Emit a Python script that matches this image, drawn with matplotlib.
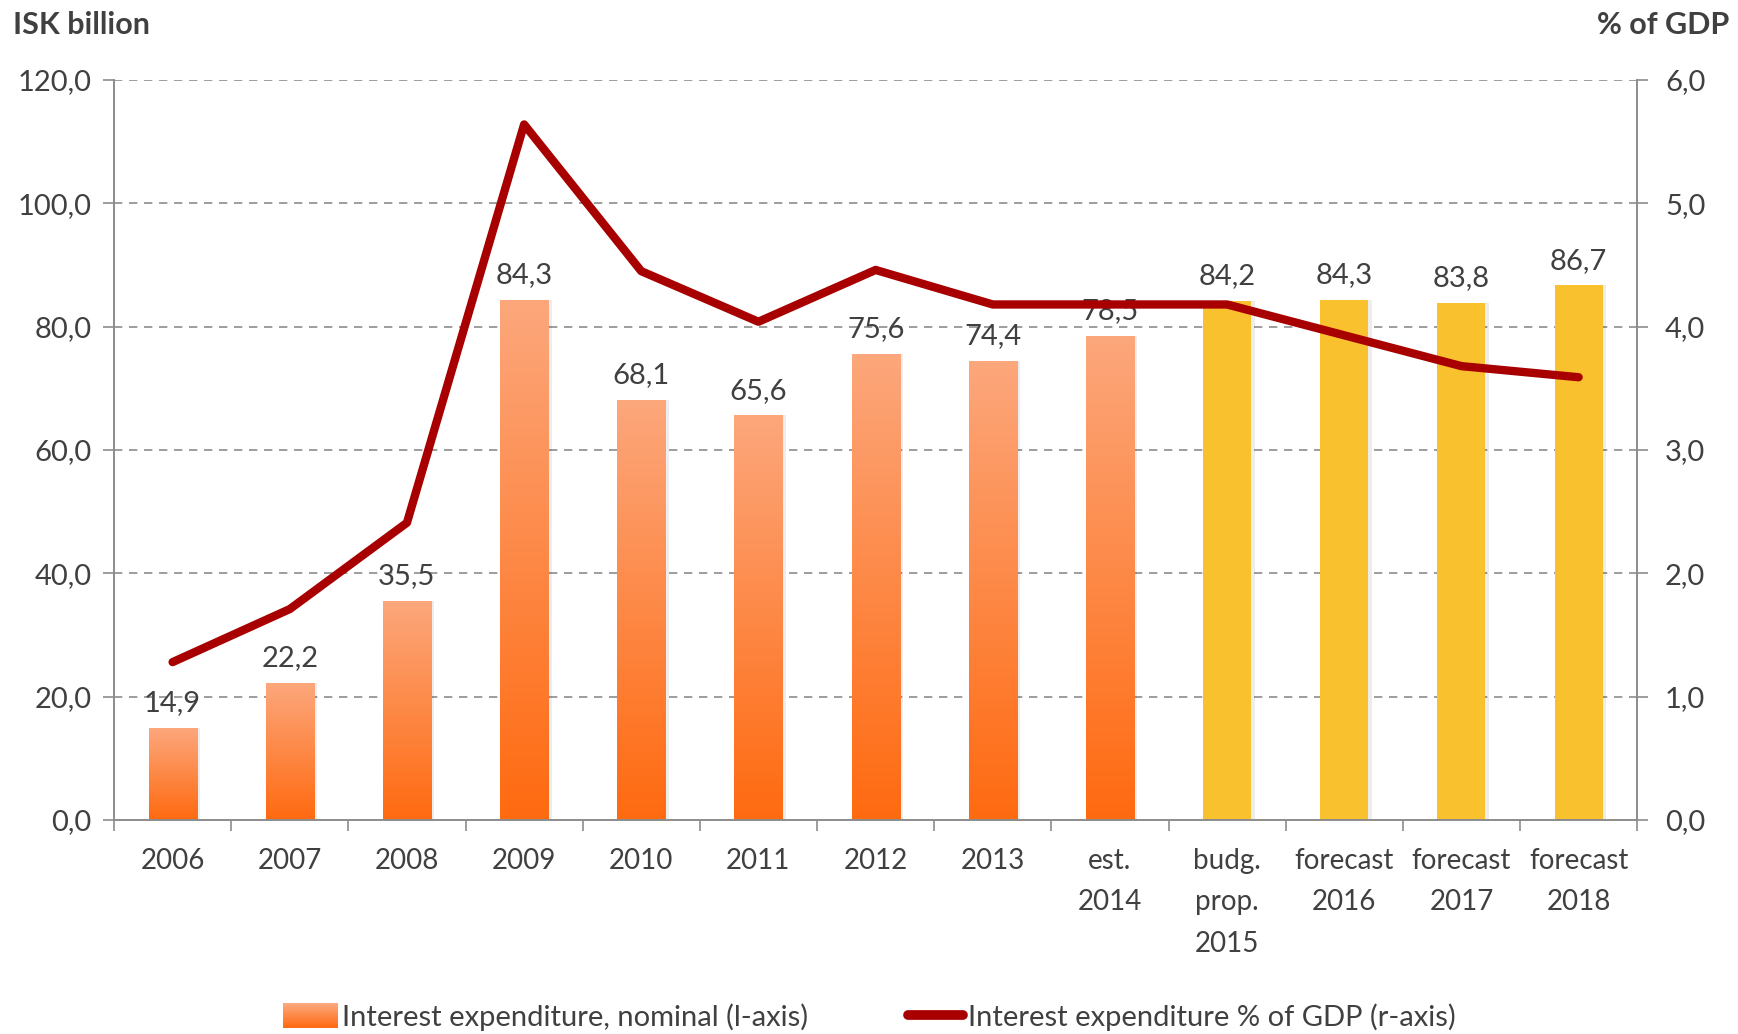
import numpy as np
import matplotlib
matplotlib.use("Agg")
import matplotlib.pyplot as plt
from matplotlib.colors import LinearSegmentedColormap
from matplotlib.patches import Patch, Rectangle
from matplotlib.lines import Line2D
from matplotlib.legend_handler import HandlerBase

plt.rcParams['font.family'] = ['Lato', 'DejaVu Sans']

# data
categories = ["2006", "2007", "2008", "2009", "2010", "2011", "2012", "2013",
              "est.\n2014", "budg.\nprop.\n2015", "forecast\n2016",
              "forecast\n2017", "forecast\n2018"]
nominal = [14.9, 22.2, 35.5, 84.3, 68.1, 65.6, 75.6, 74.4, 78.5, 84.2, 84.3, 83.8, 86.7]
pct_gdp = [1.28, 1.71, 2.41, 5.64, 4.45, 4.04, 4.46, 4.18, 4.18, 4.18, 3.93, 3.68, 3.59]
is_forecast = [False] * 9 + [True] * 4
left_ticks = [0, 20, 40, 60, 80, 100, 120]
right_ticks = [0, 1, 2, 3, 4, 5, 6]

text_col = "#404040"
grid_col = "#8c8c8c"
yellow = "#F9C12E"
grad = LinearSegmentedColormap.from_list("bar", ["#FF6A10", "#FCA77C"])


class GradientHandler(HandlerBase):
    """Legend box with the same vertical gradient as the bars."""
    def create_artists(self, legend, orig_handle, xdescent, ydescent,
                       width, height, fontsize, trans):
        n = 20
        out = []
        for i in range(n):
            r = Rectangle((-xdescent, -ydescent + height * i / n), width,
                          height / n + 0.3, facecolor=grad(i / (n - 1)),
                          edgecolor="none", transform=trans)
            out.append(r)
        return out


fig = plt.figure(figsize=(17.38, 10.34), dpi=100)
ax = fig.add_axes([0.0656, 0.207, 0.8764, 0.7156])
ax2 = ax.twinx()

x = np.arange(len(categories))
w = 0.41

# shadow
ax.bar(x + 0.03, nominal, width=w, color="#000000", alpha=0.07, zorder=1)
bars = ax.bar(x, nominal, width=w, color="none", zorder=2)
gimg = np.linspace(0, 1, 256).reshape(-1, 1)
for b, v, fc in zip(bars, nominal, is_forecast):
    if fc:
        b.set_facecolor(yellow)
    else:
        x0 = b.get_x()
        im = ax.imshow(gimg, cmap=grad, aspect="auto", origin="lower",
                       extent=[x0, x0 + w, 0, v], zorder=2)
        im.set_clip_path(b)
for xi, v in zip(x, nominal):
    ax.text(xi, v + 1.9, f"{v:.1f}".replace(".", ","), ha="center", va="bottom",
            fontsize=21, color=text_col, zorder=5)

ax.set_xlim(-0.5, len(categories) - 0.5)
ax.set_ylim(0, 120)
ax2.set_ylim(0, 6)

ax2.plot(x, pct_gdp, color="#A80000", lw=6, solid_capstyle="round",
         solid_joinstyle="round", zorder=4)

# grid and axes
for t in left_ticks[1:]:
    ax.axhline(t, color=grid_col, lw=1.2, ls=(0, (5, 4)), zorder=0)
ax.set_yticks(left_ticks)
ax.set_yticklabels([f"{t:.1f}".replace(".", ",") for t in left_ticks])
ax2.set_yticks(right_ticks)
ax2.set_yticklabels([f"{t:.1f}".replace(".", ",") for t in right_ticks])
ax.set_xticks(x)
ax.set_xticklabels(categories, linespacing=1.75, va="top")
ax.set_xticks(np.arange(-0.5, len(categories)), minor=True)
ax.tick_params(axis="x", which="major", length=0, pad=20, labelsize=20, colors=text_col)
ax.tick_params(axis="x", which="minor", length=8, color=grid_col, width=1.2)
ax.tick_params(axis="y", length=8, color=grid_col, width=1.2, labelsize=21,
               labelcolor=text_col, pad=8)
ax2.tick_params(axis="y", length=8, color=grid_col, width=1.2, labelsize=21,
                labelcolor=text_col, pad=12)
for a in (ax, ax2):
    a.spines["top"].set_visible(False)
    for s in ("left", "right", "bottom"):
        a.spines[s].set_color(grid_col)
        a.spines[s].set_linewidth(1.2)
ax2.patch.set_visible(False)

fig.text(0.0075, 0.976, "ISK billion", fontsize=22, fontweight="bold",
         color=text_col, ha="left", va="center")
fig.text(0.995, 0.976, "% of GDP", fontsize=22, fontweight="bold",
         color=text_col, ha="right", va="center")

bar_handle = Patch(facecolor="#FD8A50", edgecolor="none")
line_handle = Line2D([0], [0], color="#A80000", lw=7, solid_capstyle="round")
labels = ["Interest expenditure, nominal (l-axis)",
          "Interest expenditure % of GDP (r-axis)"]
fig.legend([bar_handle, line_handle], labels, loc="center",
           bbox_to_anchor=(0.5, 0.0165), ncol=2, frameon=False, fontsize=21,
           handlelength=1.9, handleheight=0.9, handletextpad=0.15,
           columnspacing=3.4, labelcolor=text_col,
           handler_map={Patch: GradientHandler()})

fig.savefig("out.png", dpi=100)
